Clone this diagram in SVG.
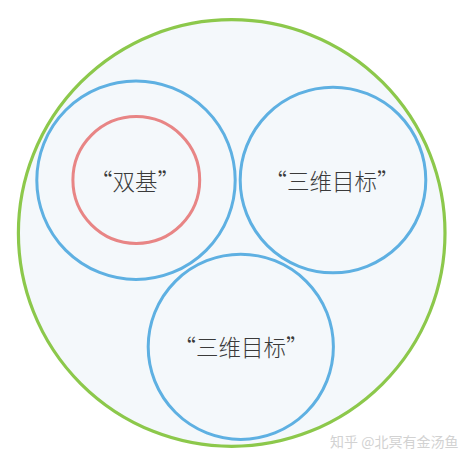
<svg xmlns="http://www.w3.org/2000/svg" width="465" height="463" viewBox="0 0 465 463">
<style>
.lbl{font-family:"Noto Sans CJK SC","Noto Sans",sans-serif;font-size:22.5px;font-weight:300;fill:#3a3a3a;text-anchor:middle}
.blue{fill:none;stroke:#5eb0e2;stroke-width:3}
.wm{font-family:"Noto Sans CJK SC","Noto Sans",sans-serif;font-size:14px;fill:#d2d2d2}
</style>
<rect width="465" height="463" fill="#ffffff"/>
<g id="outer">
<circle cx="231.7" cy="233" r="213.3" fill="#f4f8fb" stroke="#8cc84b" stroke-width="3.2"/>
</g>
<g id="left">
<circle class="blue" cx="136" cy="180.2" r="99.2"/>
</g>
<g id="inner">
<circle cx="136.3" cy="180" r="63.4" fill="none" stroke="#e88585" stroke-width="3"/>
<text class="lbl" x="135" y="190">“双基”</text>
</g>
<g id="right">
<circle class="blue" cx="333" cy="180" r="92.8"/>
<text class="lbl" x="332" y="190">“三维目标”</text>
</g>
<g id="bottom">
<circle class="blue" cx="240.8" cy="346.8" r="92.6"/>
<text class="lbl" x="241" y="356">“三维目标”</text>
</g>
<g id="connectors"></g>
<text class="wm" x="330" y="447">知乎 @北冥有金汤鱼</text>
</svg>
